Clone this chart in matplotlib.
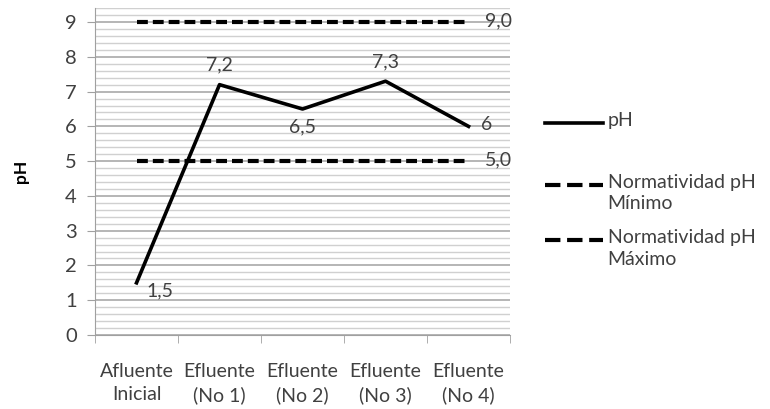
import matplotlib.pyplot as plt
from matplotlib.lines import Line2D
from matplotlib.ticker import MultipleLocator

# pH por etapa del tratamiento
categorias = ["Afluente\nInicial", "Efluente\n(No 1)", "Efluente\n(No 2)", "Efluente\n(No 3)", "Efluente\n(No 4)"]
ph = [1.5, 7.2, 6.5, 7.3, 6.0]
ph_etiquetas = ["1,5", "7,2", "6,5", "7,3", "6"]
norma_min = [5.0, 5.0, 5.0, 5.0, 5.0]
norma_max = [9.0, 9.0, 9.0, 9.0, 9.0]

plt.rcParams["font.family"] = ["Lato", "DejaVu Sans"]
gris = "#404040"
guiones = (0, (2.6, 1.2))

fig = plt.figure(figsize=(7.7, 4.09), dpi=100)
ax = fig.add_axes([0.1234, 0.181, 0.539, 0.799])

x = list(range(len(categorias)))
ax.plot(x, ph, color="black", lw=2.6, label="pH")
ax.plot(x, norma_min, color="black", lw=3, linestyle=guiones, label="Normatividad pH\nMínimo")
ax.plot(x, norma_max, color="black", lw=3, linestyle=guiones, label="Normatividad pH\nMáximo")

# etiquetas de datos
offsets = [(7, -6, "left", "center"), (0, 8, "center", "bottom"), (0, -7, "center", "top"),
           (0, 8, "center", "bottom"), (9, 1, "left", "center")]
for xi, yi, txt, (dx, dy, ha, va) in zip(x, ph, ph_etiquetas, offsets):
    ax.annotate(txt, (xi, yi), xytext=(dx, dy), textcoords="offset points",
                ha=ha, va=va, fontsize=14, color=gris)
ax.annotate("9,0", (x[-1], norma_max[-1]), xytext=(12, 1), textcoords="offset points",
            ha="left", va="center", fontsize=14, color=gris)
ax.annotate("5,0", (x[-1], norma_min[-1]), xytext=(12, 1), textcoords="offset points",
            ha="left", va="center", fontsize=14, color=gris)

ax.set_xlim(-0.5, len(categorias) - 0.5)
ax.set_ylim(0, 9.4)
ax.yaxis.set_major_locator(MultipleLocator(1))
ax.yaxis.set_minor_locator(MultipleLocator(0.2))
ax.set_yticks(range(0, 10))
ax.set_xticks(x)
ax.set_xticklabels(categorias)
ax.set_xticks([i - 0.5 for i in range(len(categorias) + 1)], minor=True)
for etiqueta in ax.get_xticklabels():
    etiqueta.set_linespacing(1.45)

ax.grid(which="major", axis="y", color="#b0b0b0", lw=1.3)
ax.grid(which="minor", axis="y", color="#d0d0d0", lw=1.0)
ax.set_axisbelow(True)

for lado in ["top", "right"]:
    ax.spines[lado].set_visible(False)
ax.spines["left"].set_color("#a0a0a0")
ax.spines["bottom"].set_color("#a0a0a0")

ax.tick_params(axis="y", which="major", length=6, color="#a0a0a0", labelsize=14.5, labelcolor=gris, pad=7)
ax.tick_params(axis="y", which="minor", length=0)
ax.tick_params(axis="x", which="major", length=0, labelsize=14, labelcolor=gris, pad=20)
ax.tick_params(axis="x", which="minor", length=6, color="#a0a0a0")

ax.set_ylabel("pH", fontsize=12.5, fontweight="bold", color="black", labelpad=26)

# leyenda a la derecha: la muestra de linea se alinea con la primera linea del texto
filas_y = [0.699, 0.548, 0.413]
for linea, fy in zip(ax.get_lines(), filas_y):
    fig.add_artist(Line2D([0.708, 0.783], [fy, fy], transform=fig.transFigure,
                          color=linea.get_color(), lw=linea.get_linewidth(),
                          linestyle=linea.get_linestyle()))
    fig.text(0.789, fy + 0.026, linea.get_label(), ha="left", va="top",
             fontsize=14, color=gris, linespacing=1.3, transform=fig.transFigure)

fig.savefig("out.png", dpi=100)
